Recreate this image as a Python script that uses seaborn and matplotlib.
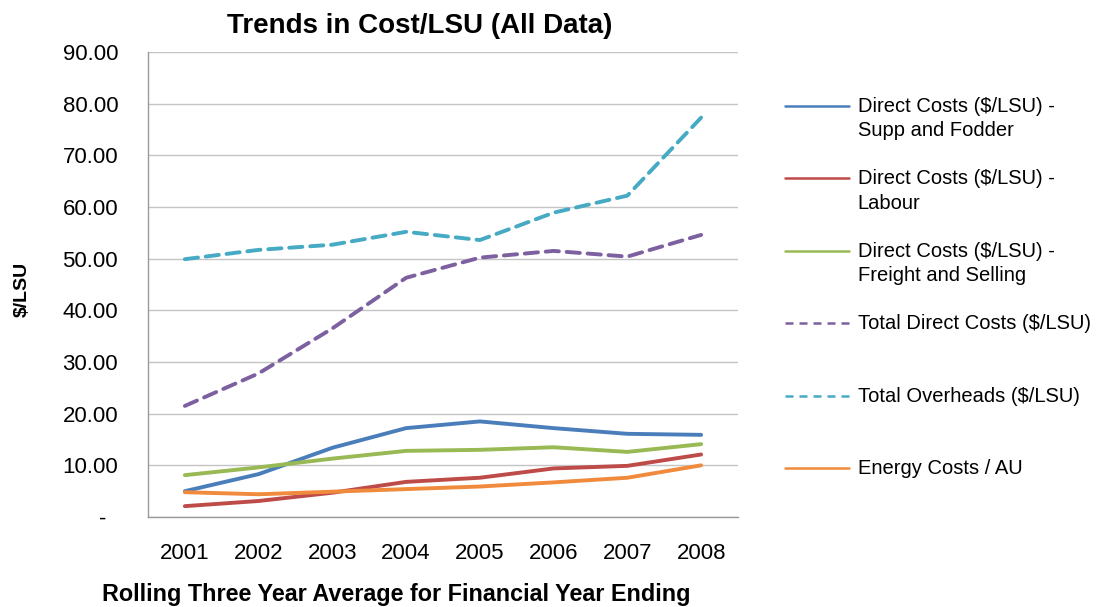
import numpy as np
import matplotlib
matplotlib.use("Agg")
import matplotlib.pyplot as plt
import seaborn as sns
from matplotlib.lines import Line2D
from matplotlib.legend_handler import HandlerLine2D
from matplotlib.ticker import FixedLocator, FuncFormatter, MultipleLocator

# Rolling three-year averages, $/LSU
years = ["2001", "2002", "2003", "2004", "2005", "2006", "2007", "2008"]
supp_fodder = [5.0, 8.3, 13.4, 17.2, 18.5, 17.2, 16.1, 15.9]
labour = [2.1, 3.1, 4.7, 6.8, 7.6, 9.4, 9.9, 12.1]
freight_selling = [8.1, 9.6, 11.3, 12.8, 13.0, 13.5, 12.6, 14.1]
total_direct = [21.5, 27.8, 36.5, 46.3, 50.2, 51.5, 50.4, 54.6]
total_overheads = [49.9, 51.7, 52.7, 55.2, 53.6, 58.9, 62.2, 77.3]
energy = [4.8, 4.4, 4.9, 5.4, 5.9, 6.7, 7.6, 10.0]

series_labels = [
    "Direct Costs ($/LSU) -\nSupp and Fodder",
    "Direct Costs ($/LSU) -\nLabour",
    "Direct Costs ($/LSU) -\nFreight and Selling",
    "Total Direct Costs ($/LSU)",
    "Total Overheads ($/LSU)",
    "Energy Costs / AU",
]
series_values = [supp_fodder, labour, freight_selling, total_direct, total_overheads, energy]
series_colors = ["#4A7EBB", "#BE4B48", "#98B954", "#7D60A0", "#46AAC5", "#F08A3C"]
series_dashed = [False, False, False, True, True, False]

sns.set_style("white")
plt.rcParams["font.family"] = ["Liberation Sans", "DejaVu Sans"]
plt.rcParams["text.color"] = "black"
plt.rcParams["axes.labelcolor"] = "black"
plt.rcParams["xtick.color"] = "black"
plt.rcParams["ytick.color"] = "black"

fig = plt.figure(figsize=(10.98, 6.07), dpi=100)
ax = fig.add_axes([148 / 1098, 1 - 517 / 607, 590 / 1098, 465 / 607])

for vals, col, dashed in zip(series_values, series_colors, series_dashed):
    kw = dict(linestyle=(0, (3.4, 2.0)), dash_capstyle="round") if dashed else dict(solid_capstyle="round")
    sns.lineplot(x=years, y=vals, ax=ax, color=col, linewidth=2.8, sort=False, **kw)

ax.set_xlim(-0.5, len(years) - 0.5)
ax.set_ylim(0, 90)
ax.yaxis.set_major_locator(MultipleLocator(10))
ax.yaxis.set_major_formatter(FuncFormatter(lambda v, p: "-  " if abs(v) < 1e-9 else f"{v:.2f}"))
ax.grid(axis="y", color="#C4C4C4", linewidth=1.0)
ax.grid(axis="x", visible=False)
ax.set_axisbelow(True)

for side in ("top", "right"):
    ax.spines[side].set_visible(False)
for side in ("left", "bottom"):
    ax.spines[side].set_color("#9A9A9A")
    ax.spines[side].set_linewidth(1.0)

ax.xaxis.set_minor_locator(FixedLocator(np.arange(-0.5, len(years), 1.0)))
ax.tick_params(axis="x", which="major", length=0, pad=19, labelsize=16, labelcolor="black")
ax.tick_params(axis="x", which="minor", length=5.5, width=1.0, color="#9A9A9A", direction="out")
ax.tick_params(axis="y", which="major", length=6.5, width=1.0, color="#9A9A9A",
               direction="out", pad=15, labelsize=16, labelcolor="black")

ax.set_xlabel("Rolling Three Year Average for Financial Year Ending",
              fontsize=16.8, fontweight="bold")
ax.xaxis.set_label_coords((396 - 148) / 590, (517 - 583) / 465)
ax.set_ylabel("$/LSU", fontsize=14, fontweight="bold")
ax.yaxis.set_label_coords((31 - 148) / 590, 0.49)

fig.text(420 / 1098, 1 - 26 / 607, "Trends in Cost/LSU (All Data)",
         ha="center", va="center", fontsize=20, fontweight="bold")


class FirstLineHandler(HandlerLine2D):
    """Raise the legend sample so it sits beside the first line of a two-line label."""

    def __init__(self, dy, **kw):
        super().__init__(**kw)
        self.dy = dy

    def create_artists(self, legend, orig_handle, xdescent, ydescent, width, height,
                       fontsize, trans):
        artists = super().create_artists(legend, orig_handle, xdescent, ydescent,
                                         width, height, fontsize, trans)
        for a in artists:
            if isinstance(a, Line2D):
                a.set_ydata(np.asarray(a.get_ydata(), dtype=float) + self.dy)
        return artists


handles = []
for col, dashed in zip(series_colors, series_dashed):
    if dashed:
        handles.append(Line2D([], [], color=col, linewidth=1.8, linestyle=(0, (3.2, 2.4))))
    else:
        handles.append(Line2D([], [], color=col, linewidth=1.8))
legend_labels = [lab if "\n" in lab else lab + "\n " for lab in series_labels]

leg = fig.legend(handles, legend_labels, loc="upper left",
                 bbox_to_anchor=(785 / 1098, 1 - 97 / 607), bbox_transform=fig.transFigure,
                 frameon=False, fontsize=14.5, borderpad=0, borderaxespad=0,
                 handlelength=3.2, handletextpad=0.4, labelspacing=1.45,
                 handler_map={Line2D: FirstLineHandler(9.5)})
for t in leg.get_texts():
    t.set_linespacing(1.35)

fig.savefig("out.png", dpi=100, facecolor="white")
